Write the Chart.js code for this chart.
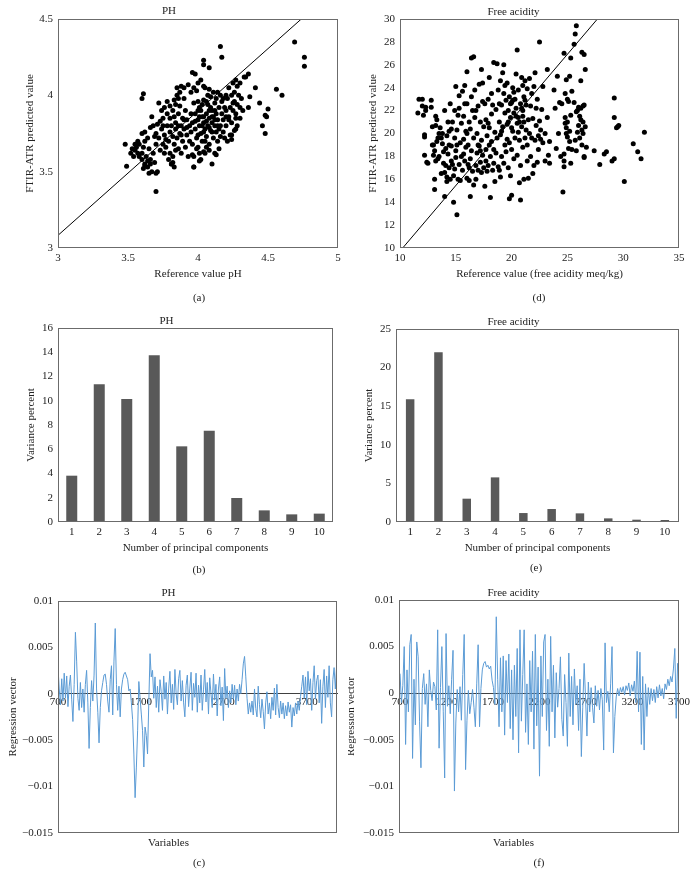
<!DOCTYPE html>
<html>
<head>
<meta charset="utf-8">
<script src="https://cdn.jsdelivr.net/npm/chart.js@4.4.1/dist/chart.umd.min.js"></script>
<style>
  body { margin: 0; background: #fff; }
  #page { position: relative; width: 696px; height: 873px; overflow: hidden; }
  canvas { position: absolute; }
  .cap { position: absolute; font: 11px "Liberation Serif", serif; color: #222; transform: translate(-50%, -50%); white-space: nowrap; }
</style>
</head>
<body>
<div id="page">
  <canvas id="chartA" width="348" height="290" style="left:0;top:0"></canvas>
  <canvas id="chartD" width="348" height="290" style="left:348px;top:0"></canvas>
  <canvas id="chartB" width="348" height="290" style="left:0;top:290px"></canvas>
  <canvas id="chartE" width="348" height="290" style="left:348px;top:290px"></canvas>
  <canvas id="chartC" width="348" height="293" style="left:0;top:580px"></canvas>
  <canvas id="chartF" width="348" height="293" style="left:348px;top:580px"></canvas>
  <div class="cap" style="left:199px;top:297px">(a)</div>
  <div class="cap" style="left:539px;top:297px">(d)</div>
  <div class="cap" style="left:199px;top:569px">(b)</div>
  <div class="cap" style="left:536px;top:567px">(e)</div>
  <div class="cap" style="left:199px;top:862px">(c)</div>
  <div class="cap" style="left:539px;top:862px">(f)</div>
</div>
<script>
// ---- data ----

// (a) pH: [reference, predicted]
const phPoints = [
  [3.48,3.68],[3.49,3.535],[3.61,4.01],[3.6,3.98],[3.7,3.37],[3.65,3.49],[4.16,4.32],[4.17,4.25],[4.04,4.23],[4.04,4.2],
  [4.08,4.18],[3.96,4.15],[4.69,4.35],[4.76,4.25],[4.76,4.19],[4.56,4.04],[4.6,4.0],[4.41,4.05],[4.37,3.99],[4.36,3.92],
  [4.44,3.95],[4.5,3.91],[4.48,3.87],[4.49,3.86],[4.46,3.8],[4.48,3.75],[4.36,4.14],[4.33,4.12],[4.27,3.85],[4.27,3.78],
  [4.24,3.74],[4.24,3.71],[4.1,3.55],[4.13,3.61],[3.96,3.61],[3.97,3.53],[4.01,3.57],[3.81,3.55],[3.82,3.56],[3.71,3.5],[3.7,3.49],
  [3.52,3.62],[3.54,3.6],[3.55,3.64],[3.56,3.66],[3.57,3.62],[3.58,3.6],[3.58,3.68],[3.6,3.62],[3.6,3.58],[3.61,3.66],
  [3.62,3.7],[3.62,3.55],[3.63,3.6],[3.64,3.57],[3.65,3.65],[3.66,3.55],[3.6,3.75],[3.62,3.76],[3.64,3.72],[3.55,3.68],
  [3.53,3.65],[3.57,3.7],[3.61,3.52],[3.62,3.54],[3.64,3.53],[3.66,3.58],[3.67,3.5],[3.68,3.62],[3.69,3.56],
  [3.66,3.79],[3.67,3.86],[3.68,3.8],[3.7,3.75],[3.7,3.68],[3.72,3.95],[3.72,3.72],[3.73,3.64],[3.74,3.78],[3.75,3.85],
  [3.75,3.68],[3.76,3.92],[3.76,3.74],[3.77,3.66],[3.78,3.8],[3.78,3.88],[3.79,3.7],[3.8,3.76],[3.8,3.62],[3.8,3.85],
  [3.71,3.81],[3.73,3.83],[3.69,3.73],[3.74,3.9],[3.77,3.71],
  [3.81,3.55],[3.82,3.6],[3.82,3.9],[3.83,3.68],[3.83,3.97],[3.84,3.78],[3.84,3.82],[3.85,3.72],[3.85,4.05],[3.86,3.65],
  [3.86,3.88],[3.87,3.75],[3.87,3.93],[3.88,3.8],[3.88,3.62],[3.89,3.85],[3.89,3.7],[3.9,3.78],[3.9,3.98],[3.91,3.66],
  [3.91,3.9],[3.92,3.74],[3.92,3.84],[3.93,4.07],[3.93,3.6],[3.94,3.8],[3.94,3.7],[3.95,3.88],[3.95,3.76],[3.81,3.8],
  [3.83,3.86],[3.86,3.8],[3.88,3.74],[3.9,3.84],[3.92,3.79],[3.85,4.0],[3.87,4.02],[3.8,3.93],[3.82,3.73],[3.84,3.64],
  [3.96,3.82],[3.96,3.68],[3.97,3.95],[3.97,3.6],[3.98,3.78],[3.98,3.88],[3.99,3.72],[3.99,4.03],[4.0,3.84],[4.0,3.66],
  [4.01,3.8],[4.01,3.92],[4.02,3.75],[4.02,4.1],[4.03,3.86],[4.03,3.7],[4.04,3.82],[4.04,3.97],[4.05,3.78],[4.05,3.62],
  [4.06,3.88],[4.06,3.73],[4.07,3.94],[4.07,3.8],[4.08,3.85],[4.08,3.68],[4.09,3.77],[4.09,3.99],[4.1,3.82],[4.1,3.9],
  [4.11,3.72],[4.11,3.86],[4.12,3.8],[4.12,3.95],[4.13,3.76],[4.13,3.88],[4.14,3.84],[4.14,3.7],[4.15,3.92],[4.15,3.78],
  [4.0,3.96],[4.02,3.9],[4.04,3.86],[4.06,3.83],[4.08,3.79],[4.1,3.76],[4.12,3.84],[3.98,3.83],[4.0,3.74],[4.03,3.94],
  [4.05,4.05],[4.07,4.0],[4.09,3.92],[4.11,4.02],[4.13,3.98],[4.0,3.9],[4.01,3.86],[4.04,3.76],[4.06,3.96],[4.08,3.9],
  [4.1,3.86],[4.12,3.9],[4.05,3.7],[4.03,3.8],[4.14,3.8],[4.01,3.62],[3.99,3.65],[4.02,3.58],[4.04,3.63],[4.06,3.66],
  [4.08,3.64],[4.12,3.62],[4.16,3.73],[4.15,3.65],
  [4.16,3.8],[4.17,3.88],[4.17,3.96],[4.18,3.76],[4.18,3.84],[4.19,3.92],[4.2,3.8],[4.2,3.9],[4.21,3.98],[4.22,3.86],
  [4.22,4.05],[4.23,3.92],[4.24,4.0],[4.24,3.82],[4.25,4.08],[4.25,3.9],[4.26,4.02],[4.26,3.96],[4.27,4.1],[4.27,3.88],
  [4.28,4.06],[4.28,3.94],[4.29,4.0],[4.3,3.92],[4.3,4.08],[4.31,3.98],[4.32,3.9],[4.34,4.12],[4.23,3.74],[4.21,3.7],
  [4.19,3.72],[4.26,3.77],[4.28,3.8],[4.22,3.84],[4.2,4.0],[4.18,3.98],[4.16,4.0],[4.14,4.02],[4.2,3.86],[4.25,3.95],[4.3,3.85],
  [3.95,4.02],[3.97,4.05],[4.0,4.08],[3.9,4.05],[3.88,4.06],[3.98,4.14],[4.04,4.06],[4.08,4.04],[3.86,3.98],[3.84,3.94],
  [3.78,3.96],[3.75,3.8],[3.76,3.62],[3.79,3.58],[3.97,3.53],[3.83,3.53]
]
// fitted line in (a)
const phFitX = [3, 4.738]
const phFitY = [3.083, 4.5]

// (d) free acidity: [reference, predicted]
const faPoints = [
  [11.6,21.8],[11.7,23.0],[12.0,23.0],[12.0,22.4],[12.1,21.6],[12.2,19.9],[12.2,19.7],[12.2,18.1],[12.3,22.3],[12.4,17.5],[12.5,17.4],[12.3,22.0],
  [12.8,22.9],[12.8,22.3],[12.9,20.6],[13.0,19.0],[13.0,18.1],[13.1,18.5],[13.1,16.0],[13.1,15.1],[13.2,21.5],[13.2,20.7],
  [13.3,19.3],[13.3,21.2],[13.4,17.8],[13.4,19.6],[13.5,18.0],[13.2,17.6],[12.9,19.0],[13.5,20.0],
  [13.6,20.5],[13.7,16.5],[13.8,19.1],[13.8,20.0],[13.9,17.4],[14.0,16.6],[14.0,14.5],[14.0,22.0],[14.1,18.7],[14.1,17.2],
  [14.2,19.8],[14.2,15.8],[14.3,21.0],[14.3,18.2],[14.4,17.0],[14.4,20.2],[14.5,16.0],[14.5,22.6],[13.9,18.4],[14.2,16.2],[14.4,19.0],[13.7,19.6],
  [14.6,18.9],[14.6,20.4],[14.7,17.3],[14.7,21.0],[14.8,14.0],[14.8,16.3],[14.9,19.6],[14.9,22.0],[15.0,17.9],[15.0,24.1],
  [15.0,18.5],[15.1,12.9],[15.1,20.3],[15.2,16.0],[15.2,21.6],[15.3,17.3],[15.3,23.3],[15.4,19.2],[15.4,15.9],[15.5,20.9],
  [15.5,18.0],[14.6,17.6],[15.1,19.0],[15.3,22.2],[14.9,16.9],
  [15.6,23.7],[15.6,16.8],[15.7,19.5],[15.7,21.5],[15.8,17.6],[15.8,24.2],[15.9,18.8],[15.9,20.2],[16.0,25.4],[16.0,16.1],
  [16.0,22.6],[16.1,17.3],[16.1,19.0],[16.2,21.0],[16.2,15.9],[16.3,20.4],[16.3,17.8],[16.3,14.5],[16.4,23.2],[16.4,26.6],
  [16.4,18.5],[16.5,22.0],[16.5,16.7],[15.7,18.2],[16.0,20.0],[16.2,17.0],[15.8,22.6],
  [16.6,26.7],[16.6,15.5],[16.6,19.6],[16.7,23.8],[16.7,21.4],[16.8,17.2],[16.8,16.0],[16.9,18.3],[16.9,20.0],[17.0,22.4],
  [17.0,16.8],[17.1,18.9],[17.1,24.3],[17.2,17.5],[17.2,21.0],[17.3,25.6],[17.3,19.4],[17.3,16.6],[17.4,22.8],[17.4,18.1],
  [17.5,20.6],[17.5,17.0],[17.0,19.0],[17.2,18.5],[16.8,22.0],[17.4,24.4],
  [17.6,22.6],[17.6,15.4],[17.7,18.6],[17.7,21.2],[17.8,16.7],[17.8,19.8],[17.9,23.0],[17.9,17.2],[18.0,20.5],[18.0,24.9],
  [18.1,14.4],[18.1,18.0],[18.2,21.7],[18.2,19.3],[18.3,16.8],[18.3,22.5],[18.4,18.6],[18.4,26.2],[18.5,20.1],[18.5,15.8],
  [17.7,17.6],[18.0,19.0],[18.2,23.5],[17.9,20.9],[18.4,17.4],
  [18.6,22.1],[18.7,26.1],[18.7,19.6],[18.8,17.1],[18.8,23.8],[18.9,21.0],[18.9,16.8],[19.0,24.6],[19.0,19.9],[19.1,18.0],
  [19.1,22.5],[19.2,25.3],[19.2,20.6],[19.3,23.5],[19.3,17.4],[19.3,26.0],[19.4,21.8],[19.4,19.0],[19.5,22.9],[19.5,18.4],
  [18.6,18.3],[18.9,22.6],[19.1,20.2],[19.4,24.2],[19.0,16.2],
  [19.6,20.8],[19.6,24.4],[19.7,22.0],[19.7,17.0],[19.8,23.2],[19.8,19.2],[19.8,14.3],[19.9,21.4],[19.9,16.3],[20.0,22.7],
  [20.0,18.6],[20.0,14.6],[20.1,24.0],[20.1,20.2],[20.2,21.8],[20.2,17.8],[20.3,23.0],[20.3,19.6],[20.4,25.2],[20.4,22.2],
  [20.5,20.9],[20.5,18.1],[20.5,27.3],[19.7,21.0],[20.0,20.5],[20.2,23.6],[19.9,22.6],[20.4,21.5],[20.1,22.9],[19.6,19.5],
  [20.6,23.8],[20.6,21.4],[20.7,19.4],[20.7,15.7],[20.8,22.6],[20.8,14.2],[20.8,17.2],[20.9,24.9],[20.9,20.6],[21.0,22.0],
  [21.0,18.8],[21.1,23.2],[21.1,21.0],[21.1,16.0],[21.2,24.6],[21.2,19.6],[21.3,22.5],[21.3,20.3],[21.4,17.6],[21.4,23.9],
  [21.5,21.2],[21.5,16.1],[20.6,20.1],[21.0,21.5],[21.2,22.9],[20.9,22.2],[21.4,19.0],[21.0,24.2],[20.7,21.0],
  [21.6,24.8],[21.6,20.0],[21.7,22.4],[21.7,18.0],[21.8,19.6],[21.9,21.3],[22.0,24.1],[22.0,17.2],[22.1,25.3],[22.1,19.4],
  [22.2,20.7],[22.3,17.5],[22.3,23.0],[22.4,18.6],[22.5,28.0],[22.5,21.1],[21.8,23.5],[22.2,22.2],[21.9,16.5],[22.4,19.8],
  [22.6,19.5],[22.7,22.1],[22.8,24.1],[22.8,19.2],[23.0,17.6],[23.2,25.6],[23.2,21.4],[23.3,18.1],[23.4,17.4],[23.4,19.3],[22.6,20.3],[23.0,20.0],
  [23.8,23.8],[23.9,22.2],[24.0,18.7],[24.1,25.0],[24.2,20.0],[24.3,22.7],[24.4,18.0],[24.5,22.6],[24.6,14.9],[24.7,17.6],[24.7,18.2],[24.7,17.1],
  [24.7,27.0],[24.8,23.5],[24.8,20.9],[24.9,24.7],[24.9,20.5],[25.0,21.0],[25.0,19.7],[25.1,22.8],[25.1,18.7],[25.2,25.0],
  [25.2,20.2],[25.3,26.6],[25.3,21.6],[25.3,17.4],[25.4,23.7],[25.4,18.6],[24.8,21.4],[25.0,23.0],[24.9,20.0],[25.2,19.3],
  [25.6,27.8],[25.7,28.7],[25.8,29.4],[25.6,22.7],[25.7,19.4],[25.8,21.9],[25.9,22.0],[26.0,20.7],[26.1,21.5],[26.2,24.6],
  [26.2,22.2],[26.3,27.1],[26.3,20.3],[26.3,19.0],[26.4,22.4],[26.4,21.0],[26.5,26.9],[26.5,22.5],[26.5,18.0],[26.5,17.9],
  [26.6,25.6],[26.6,20.6],[26.7,18.8],[26.2,21.2],[26.0,22.3],[25.9,20.1],[26.1,19.6],[26.4,20.0],[25.8,18.5],
  [27.4,18.5],[27.9,17.3],[28.3,18.2],[28.5,18.4],[29.0,17.6],[29.2,17.8],[29.2,23.1],[29.2,21.4],[29.4,20.5],[29.5,20.6],
  [29.6,20.7],[30.1,15.8],[30.9,19.1],[31.3,18.4],[31.6,17.8],[31.9,20.1]
]
const faFitX = [10.24, 27.69]
const faFitY = [10, 30]

// (b) and (e) variance percent per principal component
const pcLabels = ['1', '2', '3', '4', '5', '6', '7', '8', '9', '10']
const phVariance = [3.82, 11.37, 10.14, 13.76, 6.24, 7.53, 1.98, 0.96, 0.63, 0.69]
const faVariance = [15.9, 21.98, 3.02, 5.78, 1.16, 1.68, 1.12, 0.47, 0.3, 0.26]

// (c) and (f) regression vectors, values x 1000, one value every 15 wavenumbers from 700
const vecStart = 700
const vecStep = 15
const phVector = [
  2.8, 0.5, -1.2, 1.6, -0.8, 2.2, -0.5, 1.9, -1.4, 0.8, 2.0, -0.6, -3.0,
  1.0, 6.6, 3.5, -0.5, -1.8, 1.2, -1.5, 0.5,
  -2.0, 1.0, 2.5, -1.0, -5.9, -1.5,
  1.4, -0.8, 2.0, 7.6, 0.5, -2.0, -5.3, -1.5, 0.3,
  1.2, 2.0, 2.1, 1.0, -0.8, -2.0, 1.5,
  3.0, -2.3, 3.5, 7.0, 1.0, -1.8, 0.8, -2.5,
  0.5, 1.5, 2.1, 2.3, 1.9, 1.5, 0.3,
  0.5, -1.0, -2.8, -6.5, -11.2, -8.0, -4.0,
  1.3, -0.5, -2.2, -4.0, -7.9, -3.6, -4.5, -6.5, -1.0, 4.3, 1.8, 2.5,
  -0.5, 1.8, -1.5, 0.8, -2.0, 1.5, 0.2, -1.8, 1.9, -0.6, 1.2, -2.2, 0.6, 2.4, -1.0, 1.0, -1.7, 2.6, 0.0, -1.2, 1.6, 2.5,
  -0.8, 1.4, -1.0, -2.5, 0.9, 2.0, -1.4, 0.6, 2.3, -1.8, 1.1, -0.4, 2.2, -2.0,
  0.9, -1.0, 2.0, -1.8, 0.4, 2.6, -0.9, 1.2, -2.2, 1.7, 0.0, -1.5, 2.1, -0.7, 1.0, -2.4, 0.5, 1.8, -1.3, 0.7, -2.9, 2.7, -0.5,
  0.8, -1.5, 0.3, -1.0, 1.0, -0.6, 0.9, -1.2, 0.5, -0.8, 1.0, 0.0,
  1.5, 3.2, 4.0, 1.8, -0.5, -2.2,
  -1.0, -2.0, -0.8, -2.3, 0.5, -1.6, -2.5, 0.8, -1.2, -2.6, -0.6, -1.9, -3.8, -1.0,
  0.2, -2.2, -1.0, -2.7, -0.4, -1.8, 0.6, -2.3, 1.0, -1.5, -2.6, -0.8, -2.2, -1.0, -2.7, -1.3, -2.4, -0.9, -2.0, -1.2, -3.6, -1.5,
  -2.4, -1.0, -2.2, -0.8, -1.8, -0.3,
  0.8, 2.0, -0.5, 1.8, -1.2, 2.4, 0.3, 1.6, -1.8, 1.2, 3.0, -0.6, 1.4, 2.0, -1.0, 1.5, -3.2, 0.8, 2.6, -1.5, 1.9, -0.4, 3.0, -1.0, -2.5, 1.5, 2.8, 0.5, 2.9
]
const faVector = [
  2.1, -1.0, 0.8, 5.0, -5.5, 2.5, -2.0, 5.2, 6.3, -7.0, 1.5, -3.4, 5.5, 3.9, -3.0, -8.0, 0.5, 2.1, -1.2, 1.0,
  -3.6, 2.5, 0.3, -0.8, 1.2, 0.7, -1.8, 6.8, -5.9, 0.6, 5.0, -2.0, -9.1, 6.4, -1.4, 0.8, -2.2, 1.5, 4.6, -10.5,
  -3.2, 0.4, -2.0, 0.7, -2.9, 2.0, 6.3, -8.2, -2.9, 0.3, -2.2, -1.0, 0.4, -1.5, -3.6, 1.0, 5.2, -3.6, 0.5, 2.5,
  3.2, 3.4, 2.8, 3.0, 2.6, 2.9, 1.4, 0.6, -1.2, 8.2, 1.5, -3.6, 3.8, -2.0, 4.0, -4.5, 3.5, -1.0, 4.2, -3.8,
  2.5, -5.0, 3.0, -2.5, 4.8, -6.4, 6.8, -3.0, 2.0, 6.8, -4.2, 1.0, -5.5, 3.5, -2.0, 4.5, -6.0, 6.3, -3.5, 2.8,
  -8.9, 4.0, -2.5, 5.5, 6.3, -4.0, 1.5, -5.7, 6.1, -2.0, 3.0, -4.8, 2.2, -1.5, 0.5, 3.9, -2.8, -4.6, 2.0, -1.0,
  -5.7, 4.3, -2.5, 1.8, -3.4, 2.6, -1.2, 0.8, -4.0, 1.5, -6.8, -1.5, 3.2, -0.5, -4.6, 1.2, -2.0, 0.6, -1.5, -3.2,
  0.8, -1.4, 0.3, -1.8, 0.5, -0.7, -6.1, 5.4, -1.0, 0.2, -2.0, 1.0, 5.0, -6.4, -2.5, -0.4, 0.5, -0.3, 0.6, 0.1,
  0.7, -0.2, 0.8, 0.3, 1.1, -0.3, 0.9, 0.2, 1.3, -1.0, 4.5, -2.0, 4.4, -5.5, 1.8, -6.1, 1.0, -2.5, 0.6, -1.2,
  0.5, -0.8, 0.4, -1.0, 0.7, -0.5, 0.9, -0.3, 0.5, -0.6, 1.0, 0.4, 1.5, 0.8, 1.8, 1.2, 2.6, 4.8, -2.7, 3.2,
  1.5
]
const phVecTicks = [700, 1700, 2700, 3700]
const faVecTicks = [700, 1200, 1700, 2200, 2700, 3200, 3700]

// ---- shared settings ----
Chart.defaults.font.family = '"Liberation Serif", "Times New Roman", serif'
Chart.defaults.font.size = 11
Chart.defaults.color = '#222'

const noGrid = { display: false, drawTicks: false }
const frameColor = '#6b6b6b'

// box round the plot area
const frame = {
  id: 'frame',
  afterDatasetsDraw(chart) {
    const a = chart.chartArea, ctx = chart.ctx
    ctx.save()
    ctx.strokeStyle = frameColor
    ctx.lineWidth = 1
    ctx.strokeRect(Math.round(a.left) + 0.5, Math.round(a.top) + 0.5,
      Math.round(a.right - a.left) - 1, Math.round(a.bottom - a.top) - 1)
    ctx.restore()
  }
}

function titleOpt(text, top, bottom) {
  return { display: true, text: text, color: '#222', font: { size: 11, weight: 'normal' }, padding: { top: top, bottom: bottom } }
}
function axisTitle(text, top, bottom) {
  return { display: true, text: text, color: '#222', font: { size: 11 }, padding: { top: top, bottom: bottom } }
}
// plain number labels: 3, 3.5, 4 ...
function plainLabel(v) {
  return String(Math.round(v * 100) / 100)
}
function vecLabel(v) {
  const r = Math.round(v * 1000) / 1000
  return r < 0 ? '\u2212' + Math.abs(r) : String(r)
}
function basePlugins(title) {
  return { legend: { display: false }, tooltip: { enabled: false }, title: title }
}

// ---- scatter plots ----
function scatterChart(id, points, fitX, fitY, o) {
  new Chart(document.getElementById(id), {
    type: 'scatter',
    data: {
      datasets: [
        { data: points.map(p => ({ x: p[0], y: p[1] })), backgroundColor: '#000', pointRadius: 2.5, borderWidth: 0 },
        { type: 'line', data: fitX.map((x, i) => ({ x: x, y: fitY[i] })), borderColor: '#000', borderWidth: 1, pointRadius: 0, showLine: true }
      ]
    },
    options: {
      responsive: false, animation: false,
      layout: { padding: { top: 0, right: o.right, bottom: 0, left: 0 } },
      plugins: basePlugins(titleOpt(o.title, o.tTop, o.tBottom)),
      scales: {
        x: { type: 'linear', min: o.xMin, max: o.xMax, ticks: { stepSize: o.xStep, padding: 3.6, maxRotation: 0, callback: plainLabel },
             grid: noGrid, border: { display: false }, title: axisTitle(o.xTitle, 0, 9.4),
             afterFit: s => { s.height = 42 } },
        y: { min: o.yMin, max: o.yMax, ticks: { stepSize: o.yStep, padding: 5, callback: plainLabel },
             grid: noGrid, border: { display: false }, title: axisTitle('FTIR-ATR predicted value', o.yTitlePad, 0),
             afterFit: s => { s.width = o.yWidth } }
      }
    },
    plugins: [frame]
  })
}

scatterChart('chartA', phPoints, phFitX, phFitY, {
  title: 'PH', tTop: 4.4, tBottom: 1.4, right: 10, yWidth: 58, yTitlePad: 23.4,
  xMin: 3, xMax: 5, xStep: 0.5, yMin: 3, yMax: 4.5, yStep: 0.5, xTitle: 'Reference value pH'
})
scatterChart('chartD', faPoints, faFitX, faFitY, {
  title: 'Free acidity', tTop: 5.1, tBottom: 0.7, right: 17, yWidth: 52, yTitlePad: 18.4,
  xMin: 10, xMax: 35, xStep: 5, yMin: 10, yMax: 30, yStep: 2, xTitle: 'Reference value (free acidity meq/kg)'
})

// ---- variance bar charts ----
function barChart(id, values, o) {
  new Chart(document.getElementById(id), {
    type: 'bar',
    data: { labels: pcLabels, datasets: [{ data: values, backgroundColor: '#595959', barPercentage: o.barPct, categoryPercentage: 1 }] },
    options: {
      responsive: false, animation: false,
      layout: { padding: { top: 0, right: o.right, bottom: 0, left: 0 } },
      plugins: basePlugins(titleOpt(o.title, o.tTop, o.tBottom)),
      scales: {
        x: { ticks: { padding: 3.6, maxRotation: 0 }, grid: noGrid, border: { display: false },
             title: axisTitle('Number of principal components', 0, 25.7), afterFit: s => { s.height = 58 } },
        y: { min: 0, max: o.yMax, ticks: { stepSize: o.yStep, padding: 5 }, grid: noGrid, border: { display: false },
             title: axisTitle('Variance percent', o.yTitlePad, 0), afterFit: s => { s.width = o.yWidth } }
      }
    },
    plugins: [frame]
  })
}

barChart('chartB', phVariance, { title: 'PH', tTop: 24.8, tBottom: 0, right: 15, yWidth: 58, yTitlePad: 24.1, yMax: 16, yStep: 2, barPct: 0.4 })
barChart('chartE', faVariance, { title: 'Free acidity', tTop: 25.1, tBottom: 0.7, right: 17, yWidth: 48, yTitlePad: 14.1, yMax: 25, yStep: 5, barPct: 0.3 })

// ---- regression vectors ----
function vectorChart(id, values, ticks, o) {
  new Chart(document.getElementById(id), {
    type: 'line',
    data: {
      datasets: [{
        data: values.map((v, i) => ({ x: vecStart + i * vecStep, y: v / 1000 })),
        borderColor: '#5b9bd5', borderWidth: 1, pointRadius: 0, tension: 0
      }]
    },
    options: {
      responsive: false, animation: false,
      layout: { padding: { top: 0, right: o.right, bottom: 0, left: 0 } },
      plugins: Object.assign(basePlugins(titleOpt(o.title, 6.1, o.tBottom)), {
        subtitle: { display: true, position: 'bottom', text: 'Variables', color: '#222', font: { size: 11, weight: 'normal' }, padding: { top: 3.1, bottom: 23.7 } }
      }),
      scales: {
        x: { type: 'linear', axis: 'x', position: { y: 0 }, min: o.xMin, max: o.xMax,
             afterBuildTicks: s => { s.ticks = ticks.map(v => ({ value: v })) },
             ticks: { autoSkip: false, maxRotation: 0, padding: 2.3, callback: v => String(v) },
             grid: noGrid, border: { display: true, color: '#404040', width: 1 } },
        y: { min: -0.015, max: 0.01, ticks: { stepSize: 0.005, padding: 5, callback: vecLabel },
             grid: noGrid, border: { display: false },
             title: axisTitle('Regression vector', o.yTitlePad, 0), afterFit: s => { s.width = o.yWidth } }
      }
    },
    plugins: [frame]
  })
}

vectorChart('chartC', phVector, phVecTicks, { title: 'PH', tBottom: 1.4, right: 11, yWidth: 58, yTitlePad: 6.7, xMin: 700, xMax: 4065 })
vectorChart('chartF', faVector, faVecTicks, { title: 'Free acidity', tBottom: 0.7, right: 17, yWidth: 51, yTitlePad: -3.1, xMin: 689, xMax: 3700 })
</script>
</body>
</html>
